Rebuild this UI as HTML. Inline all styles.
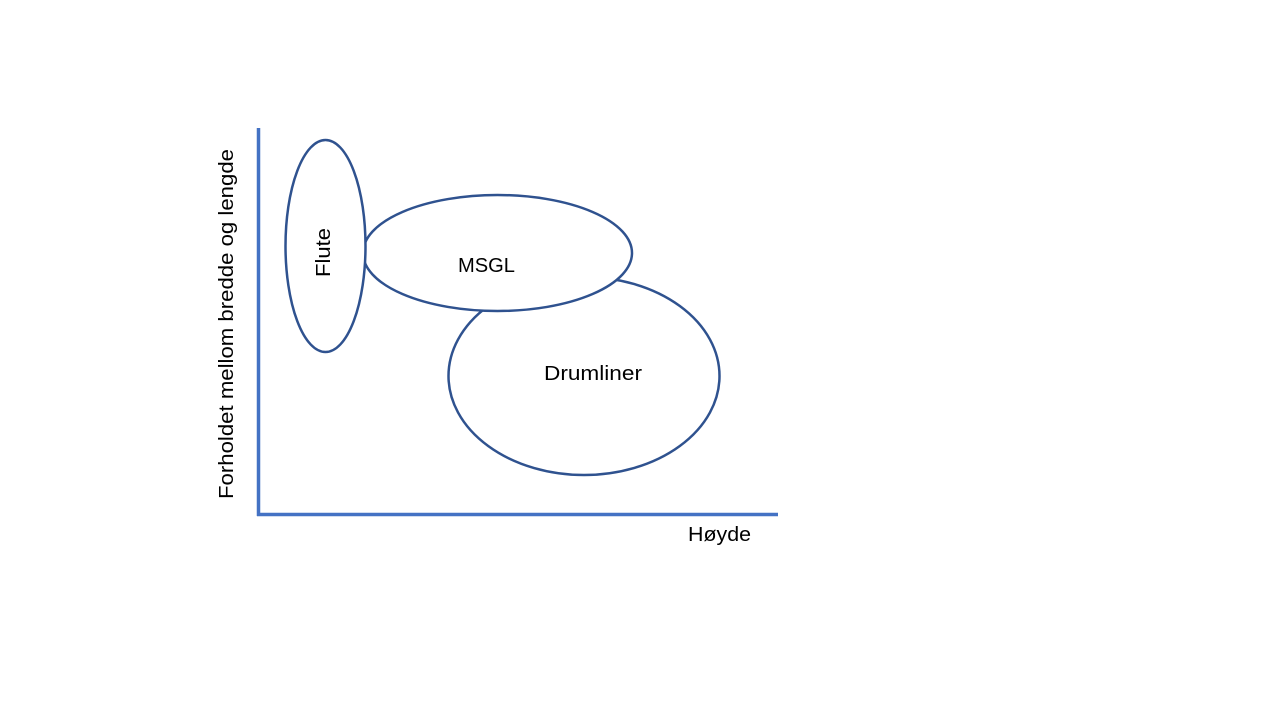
<!DOCTYPE html>
<html>
<head>
<meta charset="utf-8">
<style>
  html,body{margin:0;padding:0;background:#fff;}
  svg{display:block;}
  text{font-family:"Liberation Sans",sans-serif;fill:#000;}
</style>
</head>
<body>
<svg width="1280" height="720" viewBox="0 0 1280 720" xmlns="http://www.w3.org/2000/svg">
  <rect width="1280" height="720" fill="#fff"/>
  <!-- axes -->
  <line x1="258.5" y1="128" x2="258.5" y2="516" stroke="#4472C4" stroke-width="3.5"/>
  <line x1="257" y1="514.5" x2="778" y2="514.5" stroke="#4472C4" stroke-width="3.5"/>

  <!-- Drumliner (bottom) -->
  <ellipse cx="584" cy="376" rx="135.5" ry="99" fill="#fff" stroke="#2F528F" stroke-width="2.5"/>
  <!-- MSGL -->
  <ellipse cx="497.5" cy="253" rx="134.5" ry="58" fill="#fff" stroke="#2F528F" stroke-width="2.5"/>
  <!-- Flute (top) -->
  <ellipse cx="325.5" cy="246" rx="40" ry="106" fill="#fff" stroke="#2F528F" stroke-width="2.5"/>

  <!-- labels -->
  <text x="458" y="272" font-size="20.5" textLength="57" lengthAdjust="spacingAndGlyphs">MSGL</text>
  <text x="544" y="380" font-size="20.5" textLength="98" lengthAdjust="spacingAndGlyphs">Drumliner</text>
  <text x="688" y="541" font-size="20.5" textLength="63" lengthAdjust="spacingAndGlyphs">Høyde</text>
  <text transform="translate(330,277) rotate(-90)" font-size="20.5" textLength="49" lengthAdjust="spacingAndGlyphs">Flute</text>
  <text transform="translate(233,499) rotate(-90)" font-size="20.5" textLength="350" lengthAdjust="spacingAndGlyphs">Forholdet mellom bredde og lengde</text>
</svg>
</body>
</html>
